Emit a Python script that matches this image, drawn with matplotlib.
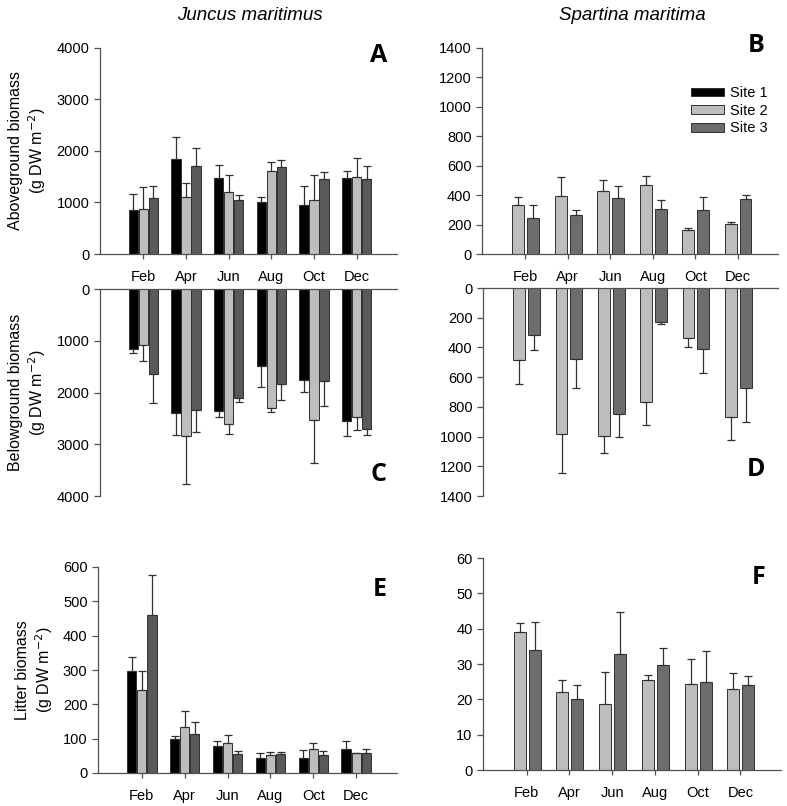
import numpy as np
import matplotlib.pyplot as plt

plt.rcParams['font.family'] = ['Liberation Sans', 'DejaVu Sans']

months = ['Feb', 'Apr', 'Jun', 'Aug', 'Oct', 'Dec']
sites = ['Site 1', 'Site 2', 'Site 3']

# Juncus maritimus - aboveground (mean, upper error end)
a_s1 = [845, 1850, 1470, 1010, 950, 1470]
a_s1_top = [1160, 2280, 1720, 1100, 1330, 1610]
a_s2 = [865, 1100, 1210, 1610, 1050, 1490]
a_s2_top = [1300, 1380, 1530, 1780, 1530, 1870]
a_s3 = [1090, 1710, 1050, 1680, 1450, 1460]
a_s3_top = [1330, 2060, 1140, 1820, 1590, 1700]

# Spartina maritima - aboveground
b_s2 = [335, 395, 430, 470, 165, 205]
b_s2_top = [390, 525, 500, 532, 180, 220]
b_s3 = [245, 262, 380, 303, 298, 372]
b_s3_top = [335, 300, 462, 370, 385, 400]

# Juncus maritimus - belowground
c_s1 = [1150, 2390, 2360, 1480, 1760, 2550]
c_s1_top = [1240, 2820, 2470, 1900, 1990, 2840]
c_s2 = [1090, 2840, 2610, 2290, 2540, 2480]
c_s2_top = [1400, 3760, 2810, 2380, 3360, 2730]
c_s3 = [1650, 2330, 2110, 1830, 1780, 2710]
c_s3_top = [2210, 2770, 2180, 2150, 2260, 2820]

# Spartina maritima - belowground
d_s2 = [485, 985, 995, 770, 335, 870]
d_s2_top = [645, 1245, 1110, 925, 400, 1025]
d_s3 = [315, 480, 845, 230, 410, 670]
d_s3_top = [415, 670, 1000, 245, 570, 900]

# Juncus maritimus - litter
e_s1 = [298, 98, 78, 45, 43, 70]
e_s1_top = [338, 108, 93, 58, 67, 92]
e_s2 = [243, 133, 87, 53, 70, 57]
e_s2_top = [298, 180, 110, 62, 88, 58]
e_s3 = [460, 113, 55, 55, 53, 58]
e_s3_top = [577, 148, 63, 60, 65, 69]

# Spartina maritima - litter
f_s2 = [39.0, 22.0, 18.7, 25.5, 24.2, 22.9]
f_s2_top = [41.5, 25.5, 27.8, 26.8, 31.3, 27.4]
f_s3 = [34.0, 20.0, 32.7, 29.8, 24.8, 24.0]
f_s3_top = [42.0, 24.0, 44.6, 34.6, 33.7, 26.5]

c_left = ['black', '#bdbdbd', '#595959']
c_right = ['black', '#bdbdbd', '#6d6d6d']

x = np.arange(len(months))
W = 787
H = 806
fig = plt.figure(figsize=(W / 100, H / 100), dpi=100)


def make_ax(l, t, r, b):
    return fig.add_axes([l / W, 1 - b / H, (r - l) / W, (b - t) / H])


def bars(ax, series, offsets, width, colors):
    for (vals, top), off, col in zip(series, offsets, colors):
        vals = np.array(vals, dtype=float)
        err = np.array(top, dtype=float) - vals
        ax.bar(x + off, vals, width, color=col, edgecolor='#303030', linewidth=0.7, zorder=2)
        ax.errorbar(x + off, vals, yerr=[np.zeros_like(err), err], fmt='none',
                    ecolor='#303030', elinewidth=0.9, capsize=2.8, capthick=0.9, zorder=3)


def style(ax, ylim, yticks, inverted=False):
    ax.set_xlim(-1.02, 5.95)
    ax.set_ylim(ylim)
    ax.set_yticks(yticks)
    ax.spines['right'].set_visible(False)
    ax.set_xticks(x)
    if inverted:
        ax.spines['bottom'].set_visible(False)
        ax.xaxis.set_ticks_position('top')
        ax.set_xticklabels([])
        ax.tick_params(axis='x', length=0)
    else:
        ax.spines['top'].set_visible(False)
        ax.set_xticklabels(months)
        ax.tick_params(axis='x', length=3.5, pad=8)
    for s in ['left', 'top', 'bottom']:
        ax.spines[s].set_color('#505050')
        ax.spines[s].set_linewidth(0.9)
    ax.tick_params(axis='both', colors='#505050', labelcolor='black', labelsize=10.5, width=0.9)
    ax.tick_params(axis='y', length=4)


w3 = 0.22
o3 = [-0.235, 0.0, 0.235]
w2 = 0.28
o2 = [-0.165, 0.185]

# A
axA = make_ax(100, 48, 397, 254)
bars(axA, [(a_s1, a_s1_top), (a_s2, a_s2_top), (a_s3, a_s3_top)], o3, w3, c_left)
style(axA, (0, 4000), [0, 1000, 2000, 3000, 4000])
axA.set_ylabel('Aboveground biomass\n(g DW m$^{-2}$)', fontsize=11.5, labelpad=6)

# B
axB = make_ax(482, 48, 778, 254)
bars(axB, [(b_s2, b_s2_top), (b_s3, b_s3_top)], o2, w2, c_right[1:])
style(axB, (0, 1400), [0, 200, 400, 600, 800, 1000, 1200, 1400])
handles = [plt.Rectangle((0, 0), 1, 1, facecolor=c, edgecolor='#303030', linewidth=0.7) for c in c_right]
axB.legend(handles, sites, loc='upper right', bbox_to_anchor=(778 / W, 1 - 76 / H),
           bbox_transform=fig.transFigure, frameon=False, fontsize=10.5, handlelength=2.3,
           handleheight=0.55, labelspacing=0.25, handletextpad=0.4, borderpad=0.2)

# C
axC = make_ax(100, 289, 397, 496)
bars(axC, [(c_s1, c_s1_top), (c_s2, c_s2_top), (c_s3, c_s3_top)], o3, w3, c_left)
style(axC, (4000, 0), [0, 1000, 2000, 3000, 4000], inverted=True)
axC.set_ylabel('Belowground biomass\n(g DW m$^{-2}$)', fontsize=11.5, labelpad=6)

# D
axD = make_ax(483, 288, 778, 496)
bars(axD, [(d_s2, d_s2_top), (d_s3, d_s3_top)], o2, w2, c_right[1:])
style(axD, (1400, 0), [0, 200, 400, 600, 800, 1000, 1200, 1400], inverted=True)

# E
axE = make_ax(98, 567, 397, 773)
bars(axE, [(e_s1, e_s1_top), (e_s2, e_s2_top), (e_s3, e_s3_top)], o3, w3, c_left)
style(axE, (0, 600), [0, 100, 200, 300, 400, 500, 600])
axE.set_ylabel('Litter biomass\n(g DW m$^{-2}$)', fontsize=11.5, labelpad=6)

# F
axF = make_ax(483, 558, 781, 770)
bars(axF, [(f_s2, f_s2_top), (f_s3, f_s3_top)], o2, w2, c_right[1:])
style(axF, (0, 60), [0, 10, 20, 30, 40, 50, 60])

# titles
fig.text(250 / W, 1 - 16 / H, 'Juncus maritimus', style='italic', fontsize=13.5, ha='center', va='center')
fig.text(632 / W, 1 - 16 / H, 'Spartina maritima', style='italic', fontsize=13.5, ha='center', va='center')

# panel letters
for lab, px, py in [('A', 387, 56), ('B', 765, 45), ('C', 387, 475), ('D', 765, 470),
                    ('E', 387, 590), ('F', 765, 578)]:
    fig.text(px / W, 1 - py / H, lab, fontsize=18, fontweight='bold', family='Open Sans',
             ha='right', va='center')

plt.savefig('out.png', dpi=100)
